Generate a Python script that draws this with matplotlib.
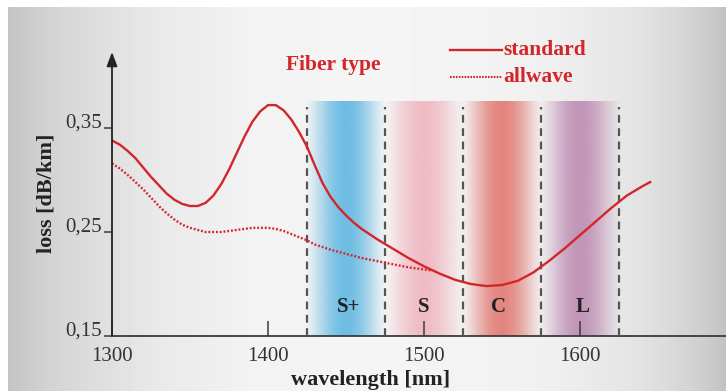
import numpy as np
import matplotlib
matplotlib.use("Agg")
import matplotlib.pyplot as plt
from matplotlib.lines import Line2D

# --- data ---
wl_standard = [1300, 1305, 1310, 1315, 1320, 1325, 1330, 1335, 1340, 1345,
               1350, 1355, 1360, 1365, 1370, 1375, 1380, 1385, 1390, 1395,
               1400, 1405, 1410, 1415, 1420, 1425, 1430, 1435, 1440, 1445,
               1450, 1455, 1460, 1465, 1470, 1480, 1490, 1500, 1510, 1520,
               1530, 1540, 1550, 1560, 1570, 1580, 1590, 1600, 1610, 1620,
               1630, 1640, 1645]
loss_standard = [0.338, 0.334, 0.328, 0.321, 0.312, 0.303, 0.295, 0.287, 0.281, 0.277,
                 0.275, 0.275, 0.278, 0.285, 0.296, 0.310, 0.326, 0.342, 0.356, 0.366,
                 0.372, 0.372, 0.367, 0.358, 0.346, 0.332, 0.314, 0.297, 0.284, 0.274,
                 0.266, 0.259, 0.253, 0.248, 0.243, 0.234, 0.225, 0.217, 0.210, 0.204,
                 0.200, 0.198, 0.199, 0.203, 0.211, 0.222, 0.234, 0.247, 0.260, 0.273,
                 0.285, 0.294, 0.298]

wl_allwave = [1300, 1305, 1310, 1315, 1320, 1325, 1330, 1335, 1340, 1345,
              1350, 1355, 1360, 1365, 1370, 1375, 1380, 1385, 1390, 1395,
              1400, 1405, 1410, 1415, 1420, 1425, 1430, 1440, 1450, 1460,
              1470, 1480, 1490, 1500, 1505]
loss_allwave = [0.316, 0.311, 0.305, 0.298, 0.291, 0.283, 0.275, 0.268, 0.262, 0.257,
                0.254, 0.252, 0.250, 0.250, 0.250, 0.251, 0.252, 0.253, 0.254, 0.254,
                0.254, 0.253, 0.251, 0.248, 0.245, 0.242, 0.238, 0.233, 0.229, 0.225,
                0.222, 0.219, 0.216, 0.214, 0.213]

band_names = ["S+", "S", "C", "L"]
band_edges = [1425, 1475, 1525, 1575, 1625]
band_label_x = [1452, 1500, 1548, 1602]
band_colors = ["#6fbde4", "#f0bcc5", "#e4857f", "#c295b8"]
band_top = 0.375

xticks = [1300, 1400, 1500, 1600]
yticks = [0.15, 0.25, 0.35]
ytick_labels = ["0,15", "0,25", "0,35"]

RED = "#d2262a"
W, H = 726, 391


def px(x, y):
    return x / W, 1 - y / H


fig = plt.figure(figsize=(W / 100, H / 100), dpi=100)

# grey background with a lighter middle
bg = fig.add_axes([0, 0, 1, 1], zorder=-10)
cols = np.arange(W)
grey = np.interp(cols, [0, 8, 60, 150, 250, 350, 450, 550, 640, 690, 726],
                 [0.77, 0.77, 0.84, 0.91, 0.95, 0.96, 0.955, 0.94, 0.89, 0.83, 0.76])
img = np.tile(grey, (H, 1))
img[:7, :] = 1.0
img[:, :8] = 1.0
bg.imshow(img, cmap="gray", vmin=0, vmax=1, aspect="auto", extent=(0, W, H, 0))
bg.set_axis_off()

ax = fig.add_axes([112 / W, 1 - 336 / H, 614 / W, 284 / H])
ax.patch.set_alpha(0)
ax.set_xlim(1300, 1300 + 614 / 1.56)
ax.set_ylim(0.15, 0.15 + 284 / 1040)

# coloured bands, fading out to the sides
t = np.linspace(0, 1, 200)
for i, c in enumerate(band_colors):
    rgb = matplotlib.colors.to_rgb(c)
    prof = 0.05 + 0.95 * np.sin(np.pi * t) ** 1.3
    rgba = np.zeros((1, len(t), 4))
    rgba[0, :, :3] = rgb
    rgba[0, :, 3] = prof
    ax.imshow(rgba, aspect="auto", extent=(band_edges[i], band_edges[i + 1], 0.15, band_top),
              zorder=1, interpolation="bilinear")
    ax.text(band_label_x[i], 0.178, band_names[i], ha="center", va="center",
            fontsize=15, fontweight="bold", family="Liberation Serif", color="#222222", zorder=5)

for e in band_edges:
    ax.plot([e, e], [0.15, 0.370], color="#555555", lw=1.6, ls=(0, (3.5, 2.5)), zorder=3)

ax.plot(wl_standard, loss_standard, color=RED, lw=1.7, zorder=4)
ax.plot(wl_allwave, loss_allwave, color=RED, lw=1.7, ls=(0, (0.8, 0.8)), zorder=4)

# axes
for s in ["top", "right", "left"]:
    ax.spines[s].set_visible(False)
ax.spines["bottom"].set_color("#3a3a3a")
ax.spines["bottom"].set_linewidth(1.3)
ax.annotate("", xy=(1300, 0.15 + 284 / 1040), xytext=(1300, 0.15),
            arrowprops=dict(arrowstyle="-|>,head_length=0.85,head_width=0.32",
                            color="#222222", lw=1.3, shrinkA=0, shrinkB=0),
            annotation_clip=False, zorder=6)

ax.set_xticks(xticks)
ax.set_xticklabels([str(v) for v in xticks])
ax.tick_params(axis="x", direction="in", length=11, width=1.1, color="#3a3a3a",
               pad=8, labelsize=15, labelcolor="#333333")
ax.set_yticks(yticks)
ax.set_yticklabels(ytick_labels)
ax.tick_params(axis="y", direction="out", length=5.5, width=1.1, color="#3a3a3a",
               pad=2, labelsize=15, labelcolor="#333333")
for lab in ax.get_xticklabels() + ax.get_yticklabels():
    lab.set_family("Liberation Serif")
for lab in ax.get_yticklabels():
    lab.set_va("baseline")

fig.text(*px(47, 193), "loss [dB/km]", rotation=90, ha="center", va="center",
         fontsize=16, fontweight="bold", family="Liberation Serif", color="#222222")
fig.text(*px(371, 390), "wavelength [nm]", ha="center", va="bottom",
         fontsize=16, fontweight="bold", family="Liberation Serif", color="#222222")

# legend
fig.text(*px(286, 70), "Fiber type", ha="left", va="baseline",
         fontsize=15.5, fontweight="bold", family="Liberation Serif", color=RED)
x0, y0 = px(450, 50)
x1, _ = px(502, 50)
fig.add_artist(Line2D([x0, x1], [y0, y0], color=RED, lw=1.7))
_, y1 = px(450, 77)
fig.add_artist(Line2D([x0, x1], [y1, y1], color=RED, lw=1.5, ls=(0, (0.8, 0.6))))
fig.text(*px(503, 55), "standard", ha="left", va="baseline",
         fontsize=15.5, fontweight="bold", family="Liberation Serif", color=RED)
fig.text(*px(503, 82), "allwave", ha="left", va="baseline",
         fontsize=15.5, fontweight="bold", family="Liberation Serif", color=RED)

fig.savefig("out.png", dpi=100)
